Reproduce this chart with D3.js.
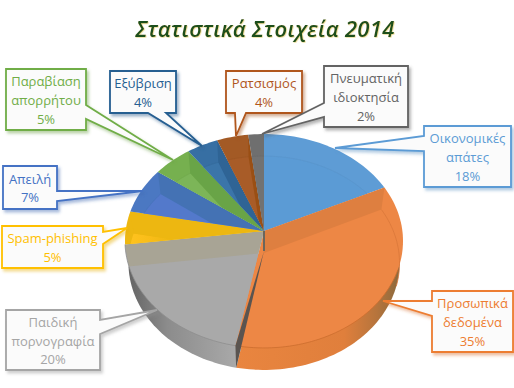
<!DOCTYPE html>
<html>
<head>
<meta charset="utf-8">
<script src="https://cdn.jsdelivr.net/npm/d3@7"></script>
<style>
  html, body { margin: 0; padding: 0; background: #fff; }
  svg { display: block; }
  .label { font-family: "Open Sans", sans-serif; font-size: 13px; text-anchor: middle; }
  .title { font-family: "Open Sans", sans-serif; font-style: italic; font-weight: 600; font-size: 22px; text-anchor: middle; letter-spacing: 0.3px; }
</style>
</head>
<body>
<div id="chart"></div>
<script>
const titleText = 'Στατιστικά Στοιχεία 2014';
const categories = [
  ['Οικονομικές', 'απάτες'],
  ['Προσωπικά', 'δεδομένα'],
  ['Παιδική', 'πορνογραφία'],
  ['Spam-phishing'],
  ['Απειλή'],
  ['Παραβίαση', 'απορρήτου'],
  ['Εξύβριση'],
  ['Ρατσισμός'],
  ['Πνευματική', 'ιδιοκτησία']
];
const values = [18, 35, 20, 5, 7, 5, 4, 4, 2];

// top / floor / radial wall colours per slice
const topColors   = ['#5e9cd5', '#ed8745', '#a9a9a9', '#edb711', '#4b78c2', '#76b04f', '#376fa3', '#a35a25', '#6f6f6f'];
const floorColors = ['#5b9bd5', '#ed8745', '#a9a9a9', 'url(#floorYellow)', '#5379cb', '#7cb558', '#3b75a9', '#a85c28', '#727272'];
const wallColors  = ['#5b9bd5', '#de7f40', '#a8a495', '#edb711', '#4472b4', '#69a447', '#2f6495', '#9a4f14', '#6a6a6a'];
const lineColors  = ['#5b9bd5', '#ed7d31', '#a5a5a5', '#ffc000', '#4472c4', '#70ad47', '#255e91', '#b0561c', '#636363'];

// callout boxes: x, y, w, h and tail as [base1, tip, base2]
const callouts = [
  { x: 424, y: 126, w: 87, h: 61, tail: [[424, 151], [335, 148], [424, 136]], side: 'l' },
  { x: 432, y: 291, w: 81, h: 61, tail: [[432, 316], [383, 301], [432, 301]], side: 'l' },
  { x: 6, y: 310, w: 94, h: 60, tail: [[100, 320], [157, 310], [100, 334]], side: 'r' },
  { x: 2, y: 226, w: 101, h: 42, tail: [[103, 232], [127, 228], [103, 244]], side: 'r' },
  { x: 3, y: 166, w: 54, h: 43, tail: [[57, 191], [143, 191], [57, 201]], side: 'r' },
  { x: 6, y: 69, w: 80, h: 61, tail: [[86, 105], [173, 160], [86, 119]], side: 'r' },
  { x: 110, y: 71, w: 66, h: 42, tail: [[166, 113], [202, 146], [148, 113]], side: 'b' },
  { x: 226, y: 71, w: 76, h: 42, tail: [[246, 113], [236, 136], [235, 113]], side: 'b' },
  { x: 324, y: 66, w: 84, h: 61, tail: [[324, 117], [262, 134], [324, 103]], side: 'l' }
];

const width = 514, height = 388;
const svg = d3.select('#chart').append('svg').attr('width', width).attr('height', height);
const defs = svg.append('defs');

const hub = [264, 231];
const A = 138.4, B = 106, k = 0.0935;   // perspective of the disc
const drop = 22, shrink = 0.975;        // lower level of the disc

function project(t) {
  const u = Math.sin(t), v = -Math.cos(t), w = 1 - k * v;
  return [hub[0] + A * u / w, hub[1] + B * v / w];
}
function lower(p) {
  return [hub[0] + shrink * (p[0] - hub[0]), p[1] + drop];
}
const hubLow = lower(hub);
const line = d3.line();

function arcPts(a0, a1) {
  const n = Math.max(2, Math.ceil((a1 - a0) / 0.03));
  return d3.range(n + 1).map(i => project(a0 + (a1 - a0) * i / n));
}

const arcs = d3.pie().sort(null).value(d => d)(values);
const backSlices = [0, 3, 4, 5, 6, 7, 8];

// gradients of the outer side wall and the yellow floor
const grads = [
  { id: 'sideOrange', x1: 237, x2: 402, stops: [[0, '#e9853f'], [0.65, '#e07f3c'], [0.85, '#b5743c'], [1, '#86683e']] },
  { id: 'sideGrey', x1: 130, x2: 237, stops: [[0, '#666666'], [0.35, '#8c8c8c'], [1, '#a9a9a9']] },
  { id: 'floorYellow', x1: 128, x2: 172, stops: [[0, '#ffc31f'], [0.5, '#f9bd18'], [1, '#edb711']] }
];
grads.forEach(g => {
  const lg = defs.append('linearGradient').attr('id', g.id).attr('gradientUnits', 'userSpaceOnUse')
    .attr('x1', g.x1).attr('x2', g.x2).attr('y1', 0).attr('y2', 0);
  lg.selectAll('stop').data(g.stops).join('stop')
    .attr('offset', d => d[0]).attr('stop-color', d => d[1]);
});

const f = defs.selectAll('filter.sh').data(lineColors).join('filter')
  .attr('id', (d, i) => 'sh' + i)
  .attr('x', '-20%').attr('y', '-20%').attr('width', '140%').attr('height', '140%');
f.append('feDropShadow').attr('dx', 2).attr('dy', 2.5).attr('stdDeviation', 1.6)
  .attr('flood-color', d => d3.color(d).darker(0.3)).attr('flood-opacity', 0.45);

defs.append('filter').attr('id', 'glow')
  .append('feDropShadow').attr('dx', 0.6).attr('dy', 0.6).attr('stdDeviation', 0.4)
  .attr('flood-color', '#d9c24a').attr('flood-opacity', 0.7);

// title
svg.append('text').attr('class', 'title')
  .attr('x', 265).attr('y', 37)
  .attr('fill', '#1c4f1e').attr('filter', 'url(#glow)')
  .text(titleText);

const pie = svg.append('g');

// side wall of the two front slices
[[1, 'sideOrange'], [2, 'sideGrey']].forEach(([i, id]) => {
  const a = arcs[i];
  const pts = [hubLow].concat(arcPts(a.startAngle, a.endAngle).map(lower));
  pie.append('path').attr('d', line(pts) + 'Z').attr('fill', `url(#${id})`);
});

// top slices, with floor and radial wall kept inside the slice
arcs.forEach((a, i) => {
  const rim = arcPts(a.startAngle, a.endAngle);
  const outline = line([hub].concat(rim)) + 'Z';
  defs.append('clipPath').attr('id', 'clip' + i).append('path').attr('d', outline);
  pie.append('path').attr('d', outline).attr('fill', topColors[i]);
  const g = pie.append('g').attr('clip-path', `url(#clip${i})`);

  if (backSlices.includes(i)) {
    g.append('path').attr('d', line([hubLow].concat(rim.map(lower))) + 'Z').attr('fill', floorColors[i]);
    if (i !== 3) {
      g.append('path').attr('d', line(rim.map(lower)))
        .attr('fill', 'none').attr('stroke', d3.color(topColors[i]).darker(0.15)).attr('stroke-width', 0.6);
    }
  }
  // radial wall: the edge of the slice facing the viewer
  const edge = a.startAngle < Math.PI && i < 2 ? project(a.startAngle) : project(a.endAngle);
  g.append('path').attr('d', line([hub, edge, lower(edge), hubLow]) + 'Z').attr('fill', wallColors[i]);
});

// faint rim of the floor in the orange slice
const orangeRim = arcPts(arcs[1].startAngle, arcs[1].startAngle + 0.75).map(lower);
pie.append('path').attr('d', line(orangeRim)).attr('fill', 'none')
  .attr('stroke', '#d9773a').attr('stroke-width', 0.8);

// edge between top and side in front
[[1, '#cc6d2e'], [2, '#8e8e8e']].forEach(([i, c]) => {
  pie.append('path').attr('d', line(arcPts(arcs[i].startAngle + (i === 1 ? 0.8 : 0), arcs[i].endAngle)))
    .attr('fill', 'none').attr('stroke', c).attr('stroke-width', 0.8);
});

// dark cut between the orange and the grey slice
const cut = project(arcs[1].endAngle);
pie.append('path').attr('d', line([[hubLow[0], hubLow[1] - 2], cut, lower(cut)]) + 'Z').attr('fill', '#5a5450');
pie.append('path').attr('d', line([hub, [hubLow[0], hubLow[1] - 2]]))
  .attr('stroke', '#6b665c').attr('stroke-width', 2);

// callouts
function calloutPath(c) {
  const [p, tip, q] = c.tail;
  const x0 = c.x, y0 = c.y, x1 = c.x + c.w, y1 = c.y + c.h;
  let pts;
  if (c.side === 'r') pts = [[x0, y0], [x1, y0], p, tip, q, [x1, y1], [x0, y1]];
  if (c.side === 'l') pts = [[x0, y0], [x1, y0], [x1, y1], [x0, y1], p, tip, q];
  if (c.side === 'b') pts = [[x0, y0], [x1, y0], [x1, y1], p, tip, q, [x0, y1]];
  return line(pts) + 'Z';
}

const box = svg.append('g').selectAll('g').data(callouts).join('g');
box.append('path')
  .attr('d', calloutPath)
  .attr('fill', '#fbfbfb')
  .attr('stroke', (d, i) => lineColors[i])
  .attr('stroke-width', 1.8)
  .attr('stroke-linejoin', 'miter')
  .attr('filter', (d, i) => `url(#sh${i})`);

box.each(function (c, i) {
  const lines = categories[i].concat(values[i] + '%');
  const gap = 18.6;
  const cy = c.y + c.h / 2 - (lines.length - 1) * gap / 2 + 5.5;
  d3.select(this).selectAll('text').data(lines).join('text')
    .attr('class', 'label')
    .attr('x', c.x + c.w / 2)
    .attr('y', (d, j) => cy + j * gap)
    .attr('fill', lineColors[i])
    .text(d => d);
});
</script>
</body>
</html>
